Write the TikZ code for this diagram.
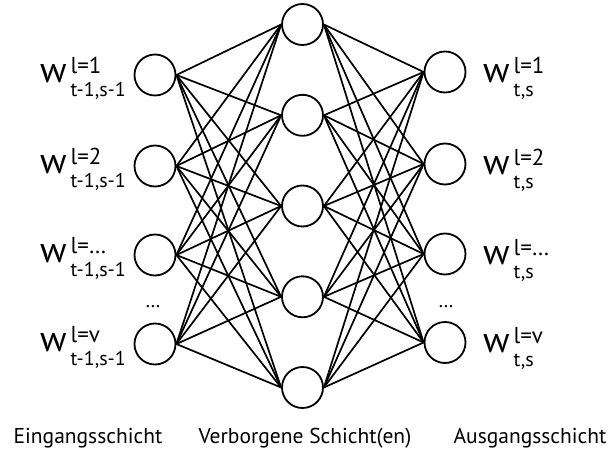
\documentclass[tikz,border=0pt]{standalone}
\usepackage{fontspec}
\setmainfont{PT Sans}
\newcommand{\wlab}[2]{{\fontsize{36}{36}\selectfont w}\hspace{4pt}\raisebox{9pt}{\rlap{\fontsize{23}{23}\selectfont #1}}\raisebox{-14.5pt}{\fontsize{20}{20}\selectfont #2}}
\begin{document}
\begin{tikzpicture}[x=1pt,y=-1pt,
  neuron/.style={circle,draw,line width=1.8pt,minimum size=41pt,inner sep=0pt},
  conn/.style={line width=1.7pt},
  lab/.style={inner sep=0pt},
  caption/.style={inner sep=0pt,anchor=base,font=\fontsize{21.5}{21.5}\selectfont},
  dotsn/.style={inner sep=0pt,font=\fontsize{20}{20}\selectfont}]
\useasboundingbox (0,0) rectangle (611,450);
% input layer
\foreach \i/\y in {1/75,2/166,3/255,4/344}
  \node[neuron] (in\i) at (155,\y) {};
% hidden layer
\foreach \i/\y in {1/24.5,2/115.3,3/206,4/296.8,5/387.5}
  \node[neuron] (h\i) at (302.5,\y) {};
% output layer
\foreach \i/\y in {1/72,2/164,3/254,4/342.5}
  \node[neuron] (out\i) at (445,\y) {};
% connections
\foreach \i in {1,...,4}
  \foreach \j in {1,...,5}
    \draw[conn] (in\i.east) -- (h\j.west);
\foreach \j in {1,...,5}
  \foreach \k in {1,...,4}
    \draw[conn] (h\j.east) -- (out\k.west);
% input labels
\node[lab,anchor=base east] (lin1) at (126,82) {\wlab{l=1}{t-1,s-1}};
\node[lab,anchor=base east] (lin2) at (126,173) {\wlab{l=2}{t-1,s-1}};
\node[lab,anchor=base east] (lin3) at (126,262) {\wlab{l=…}{t-1,s-1}};
\node[lab,anchor=base east] (lin4) at (126,351) {\wlab{l=v}{t-1,s-1}};
% output labels
\node[lab,anchor=base west] (lout1) at (483,82) {\wlab{l=1}{t,s}};
\node[lab,anchor=base west] (lout2) at (483,174) {\wlab{l=2}{t,s}};
\node[lab,anchor=base west] (lout3) at (483,264) {\wlab{l=…}{t,s}};
\node[lab,anchor=base west] (lout4) at (483,352) {\wlab{l=v}{t,s}};
% dots
\node[dotsn] (din) at (153,307) {…};
\node[dotsn] (dout) at (446,307) {…};
% captions
\node[caption] (cin) at (88,443) {Eingangsschicht};
\node[caption] (chid) at (305,443) {Verborgene Schicht(en)};
\node[caption] (cout) at (530,443) {Ausgangsschicht};
\end{tikzpicture}
\end{document}
